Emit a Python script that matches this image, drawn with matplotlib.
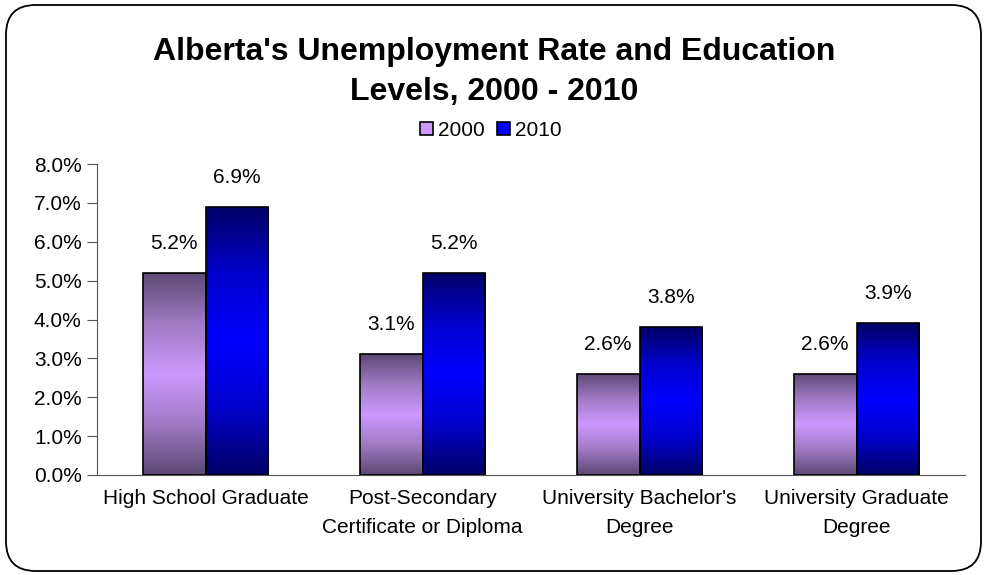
import matplotlib
matplotlib.use("Agg")
import matplotlib.pyplot as plt
import numpy as np
from matplotlib.colors import LinearSegmentedColormap
from matplotlib.patches import FancyBboxPatch, Patch

categories = ["High School Graduate", "Post-Secondary\nCertificate or Diploma",
              "University Bachelor's\nDegree", "University Graduate\nDegree"]
series_names = ["2000", "2010"]
values_2000 = [5.2, 3.1, 2.6, 2.6]
values_2010 = [6.9, 5.2, 3.8, 3.9]
yticks = [0, 1, 2, 3, 4, 5, 6, 7, 8]

plt.rcParams['font.family'] = ['Liberation Sans', 'DejaVu Sans']

fig = plt.figure(figsize=(9.88, 5.75), dpi=100)
ax = fig.add_axes([97/988, 1 - 475/575, (965-97)/988, (475-164)/575])

cmap_p = LinearSegmentedColormap.from_list("p", ["#5c4874", "#a07ac4", "#cc99ff", "#a07ac4", "#5c4874"])
cmap_b = LinearSegmentedColormap.from_list("b", ["#000066", "#0000cc", "#0000ff", "#0000cc", "#000066"])

x = np.arange(len(categories))
w = 0.29
bars1 = ax.bar(x - w/2, values_2000, w, facecolor="none", edgecolor="black", linewidth=1.2, zorder=3)
bars2 = ax.bar(x + w/2, values_2010, w, facecolor="none", edgecolor="black", linewidth=1.2, zorder=3)

grad = np.linspace(0, 1, 256).reshape(-1, 1)
for bars, cm in ((bars1, cmap_p), (bars2, cmap_b)):
    for b in bars:
        x0, y0 = b.get_x(), b.get_y()
        x1, y1 = x0 + b.get_width(), y0 + b.get_height()
        im = ax.imshow(grad, cmap=cm, extent=(x0, x1, y0, y1), aspect="auto",
                       origin="lower", zorder=2, interpolation="bilinear")
        im.set_clip_path(b)

for bars, vals in ((bars1, values_2000), (bars2, values_2010)):
    for b, v in zip(bars, vals):
        ax.text(b.get_x() + b.get_width()/2, v + 0.76, f"{v:.1f}%", ha="center",
                va="center", fontsize=15, color="black")

ax.set_xlim(-0.5, len(categories) - 0.5)
ax.set_ylim(0, 8)
ax.set_yticks(yticks)
ax.set_yticklabels([f"{t:.1f}%" for t in yticks], fontsize=15)
ax.set_xticks(x)
ax.set_xticklabels(categories, fontsize=15, linespacing=1.7)
ax.tick_params(axis="x", length=0, pad=10)
ax.tick_params(axis="y", length=7, direction="out", pad=4, color="#555555")
for s in ("top", "right"):
    ax.spines[s].set_visible(False)
ax.spines["left"].set_color("#555555")
ax.spines["bottom"].set_color("#555555")

fig.text(0.5, 1 - 72/575, "Alberta's Unemployment Rate and Education\nLevels, 2000 - 2010",
         ha="center", va="center", fontsize=23, fontweight="bold", linespacing=1.45)

handles = [Patch(facecolor="#cc99ff", edgecolor="black", linewidth=1.2),
           Patch(facecolor="#0000ff", edgecolor="black", linewidth=1.2)]
fig.legend(handles, series_names, loc="center", bbox_to_anchor=(491/988, 1 - 130/575),
           ncol=2, frameon=False, fontsize=15, handlelength=0.6, handleheight=0.6,
           handletextpad=0.25, columnspacing=0.6)

border = FancyBboxPatch((6/988, 4/575), 975/988, 566/575, boxstyle="round,pad=0,rounding_size=0.03",
                        transform=fig.transFigure, facecolor="none", edgecolor="black",
                        linewidth=1.3, mutation_aspect=988/575)
fig.patches.append(border)

fig.savefig("out.png", dpi=100)
